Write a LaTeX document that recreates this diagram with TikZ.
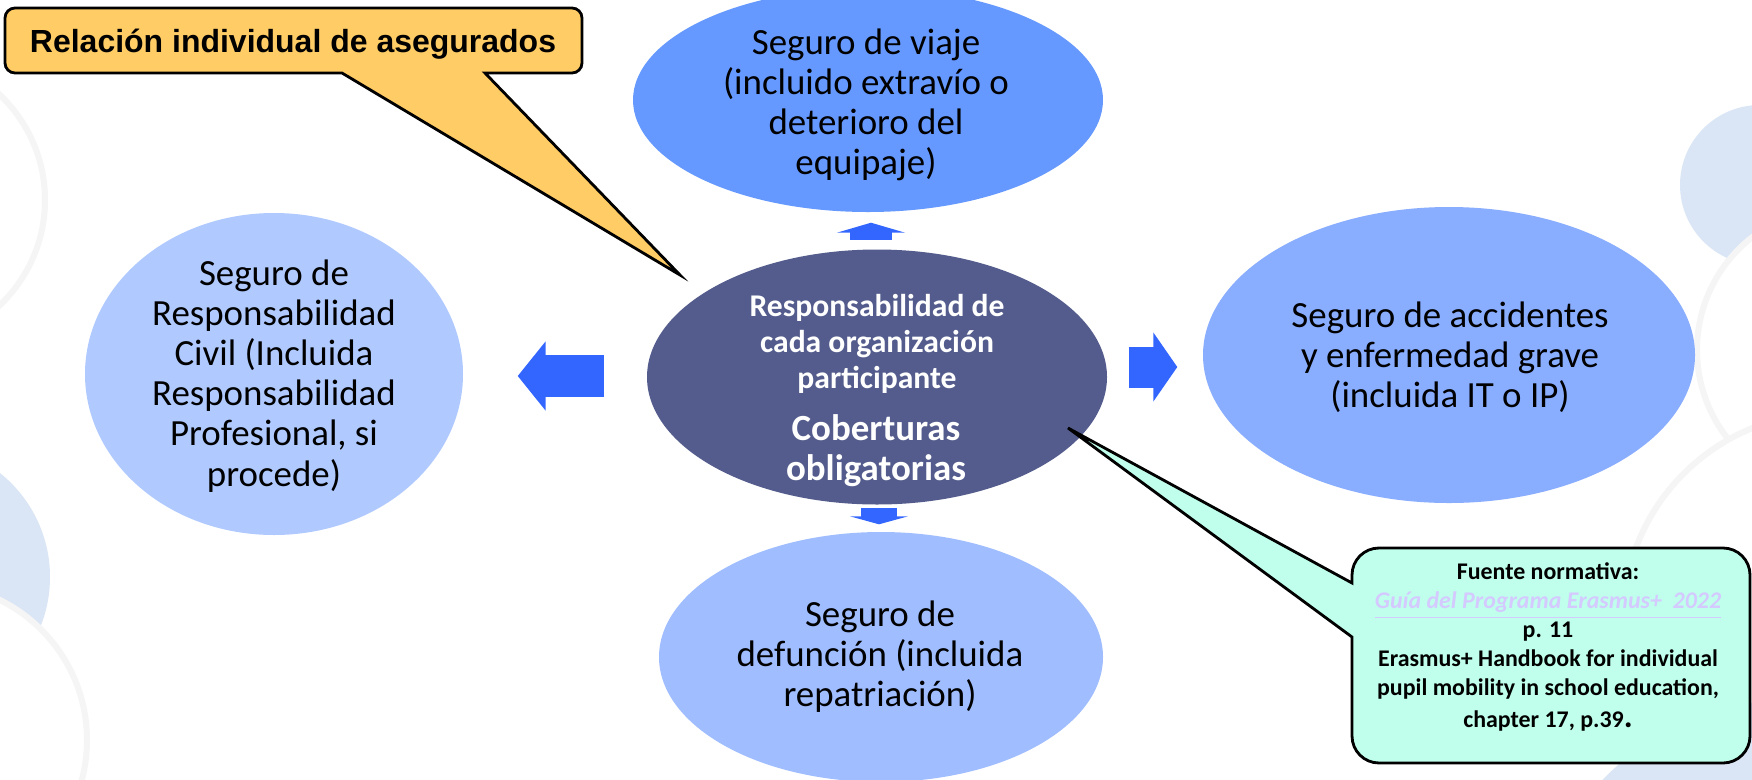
\documentclass[tikz,border=0pt]{standalone}
\usepackage{fontspec}
\setmainfont{Carlito}
\newfontfamily\arialfont{Liberation Sans}
\usetikzlibrary{shapes.geometric, arrows.meta}

\definecolor{tripblue}{RGB}{102,153,255}
\definecolor{coreblue}{RGB}{83,92,140}
\definecolor{civilblue}{RGB}{176,202,255}
\definecolor{accidblue}{RGB}{137,173,255}
\definecolor{deathblue}{RGB}{160,190,255}
\definecolor{arrowblue}{RGB}{51,102,255}
\definecolor{notefill}{RGB}{255,204,102}
\definecolor{srcfill}{RGB}{192,255,236}
\definecolor{linkpurple}{RGB}{212,202,255}
\definecolor{paleblue}{RGB}{218,230,245}

\begin{document}
\begin{tikzpicture}[
    blob/.style={ellipse, inner sep=0pt},
    blobtext/.style={inner sep=0pt, align=center, font=\fontsize{10.5}{11.4}\selectfont},
    blockarrow/.style args={#1/#2/#3}{draw=arrowblue, line width=#1, -{Triangle[width=#2, length=#3]}},
    ghost/.style={fill=white, draw=black!4, line width=0.06cm},
    callout/.style={draw=black, line width=0.8pt}
  ]
    \clip (0, 0) rectangle (17.52, -7.79);

    % Background
    \fill[white] (0, 0) rectangle (17.52, -7.79);
    \draw[ghost] (-1.0, -2.0) circle (1.45);
    \fill[paleblue] (-0.83, -5.77) circle (1.33);
    \draw[ghost] (-0.69, -7.40) circle (1.56);
    \fill[paleblue] (17.60, -1.85) circle (0.80);
    \draw[ghost] (18.40, -3.50) circle (1.43);
    \draw[ghost] (18.30, -6.20) circle (2.07);
    \fill[paleblue] (17.90, -9.60) circle (2.60);

    % Nodes
    \node[blob, fill=tripblue, minimum width=4.70cm, minimum height=2.24cm] at (8.68, -1.00) (trip) {};
    \node[blob, fill=coreblue, minimum width=4.60cm, minimum height=2.55cm] at (8.77, -3.77) (core) {};
    \node[blob, fill=civilblue, minimum width=3.78cm, minimum height=3.22cm] at (2.74, -3.74) (civil) {};
    \node[blob, fill=accidblue, minimum width=4.92cm, minimum height=2.96cm] at (14.49, -3.55) (accid) {};
    \node[blob, fill=deathblue, minimum width=4.44cm, minimum height=2.50cm] at (8.81, -6.57) (death) {};

    \node[blobtext] at (8.66, -1.05) (triptxt) {Seguro de viaje\\(incluido extravío o\\deterioro del\\equipaje)};
    \node[blobtext] at (2.74, -3.76) (civiltxt) {Seguro de\\Responsabilidad\\Civil (Incluida\\Responsabilidad\\Profesional, si\\procede)};
    \node[blobtext] at (14.50, -3.57) (accidtxt) {Seguro de accidentes\\y enfermedad grave\\(incluida IT o IP)};
    \node[blobtext] at (8.80, -6.57) (deathtxt) {Seguro de\\defunción (incluida\\repatriación)};

    \node[inner sep=0pt, align=center, text=white, font=\bfseries\fontsize{9}{10.3}\selectfont] at (8.77, -3.44) (corehead) {Responsabilidad de\\cada organización\\participante};
    \node[inner sep=0pt, align=center, text=white, font=\bfseries\fontsize{10.5}{11.4}\selectfont] at (8.76, -4.51) (corefoot) {Coberturas\\obligatorias};

    % Arrows
    \draw[blockarrow=0.42cm/0.68cm/0.10cm, shorten <=0.09cm, shorten >=0.10cm] ([xshift=-0.06cm]core.north) -- ([xshift=-0.06cm]core.north |- trip.south);
    \draw[blockarrow=0.36cm/0.58cm/0.08cm, shorten <=0.03cm, shorten >=0.07cm] ([xshift=0.02cm]core.south) -- ([xshift=0.02cm]core.south |- death.north);
    \draw[blockarrow=0.42cm/0.68cm/0.28cm, shorten <=0.42cm, shorten >=0.54cm] ([yshift=0.01cm]core.west) -- ([yshift=0.01cm]core.west -| civil.east);
    \draw[blockarrow=0.41cm/0.68cm/0.24cm, shorten <=0.21cm, shorten >=0.25cm] ([yshift=0.10cm]core.east) -- ([yshift=0.10cm]core.east -| accid.west);

    % Callouts
    \coordinate (reltip) at (6.80, -2.75);
    \filldraw[callout, fill=notefill] (reltip) -- (3.42, -0.73) [rounded corners=0.1cm] -- (0.05, -0.73) -- (0.05, -0.08) -- (5.82, -0.08) -- (5.82, -0.73) [sharp corners] -- (4.85, -0.73) -- cycle;
    \node[inner sep=0pt, font=\arialfont\bfseries\fontsize{9.1}{10.5}\selectfont] at (2.93, -0.44) (reltxt) {Relación individual de asegurados};

    \coordinate (srctip) at (10.68, -4.28);
    \filldraw[callout, fill=srcfill] (srctip) -- (13.52, -5.83) [rounded corners=0.27cm] -- (13.52, -5.48) -- (17.50, -5.48) -- (17.50, -7.63) -- (13.52, -7.63) [sharp corners] -- (13.52, -6.37) -- cycle;
    \node[inner sep=0pt, align=center, font=\bfseries\fontsize{6.8}{8.2}\selectfont] at (15.48, -6.47) (srctxt) {Fuente normativa:\\{\itshape\color{linkpurple}\underline{Guía del Programa Erasmus+~~2022}}\\p. 11\\Erasmus+ Handbook for individual\\pupil mobility in school education,\\[1pt]chapter 17, p.39{\fontsize{9.5}{9.5}\selectfont.}};

  \end{tikzpicture}
\end{document}
